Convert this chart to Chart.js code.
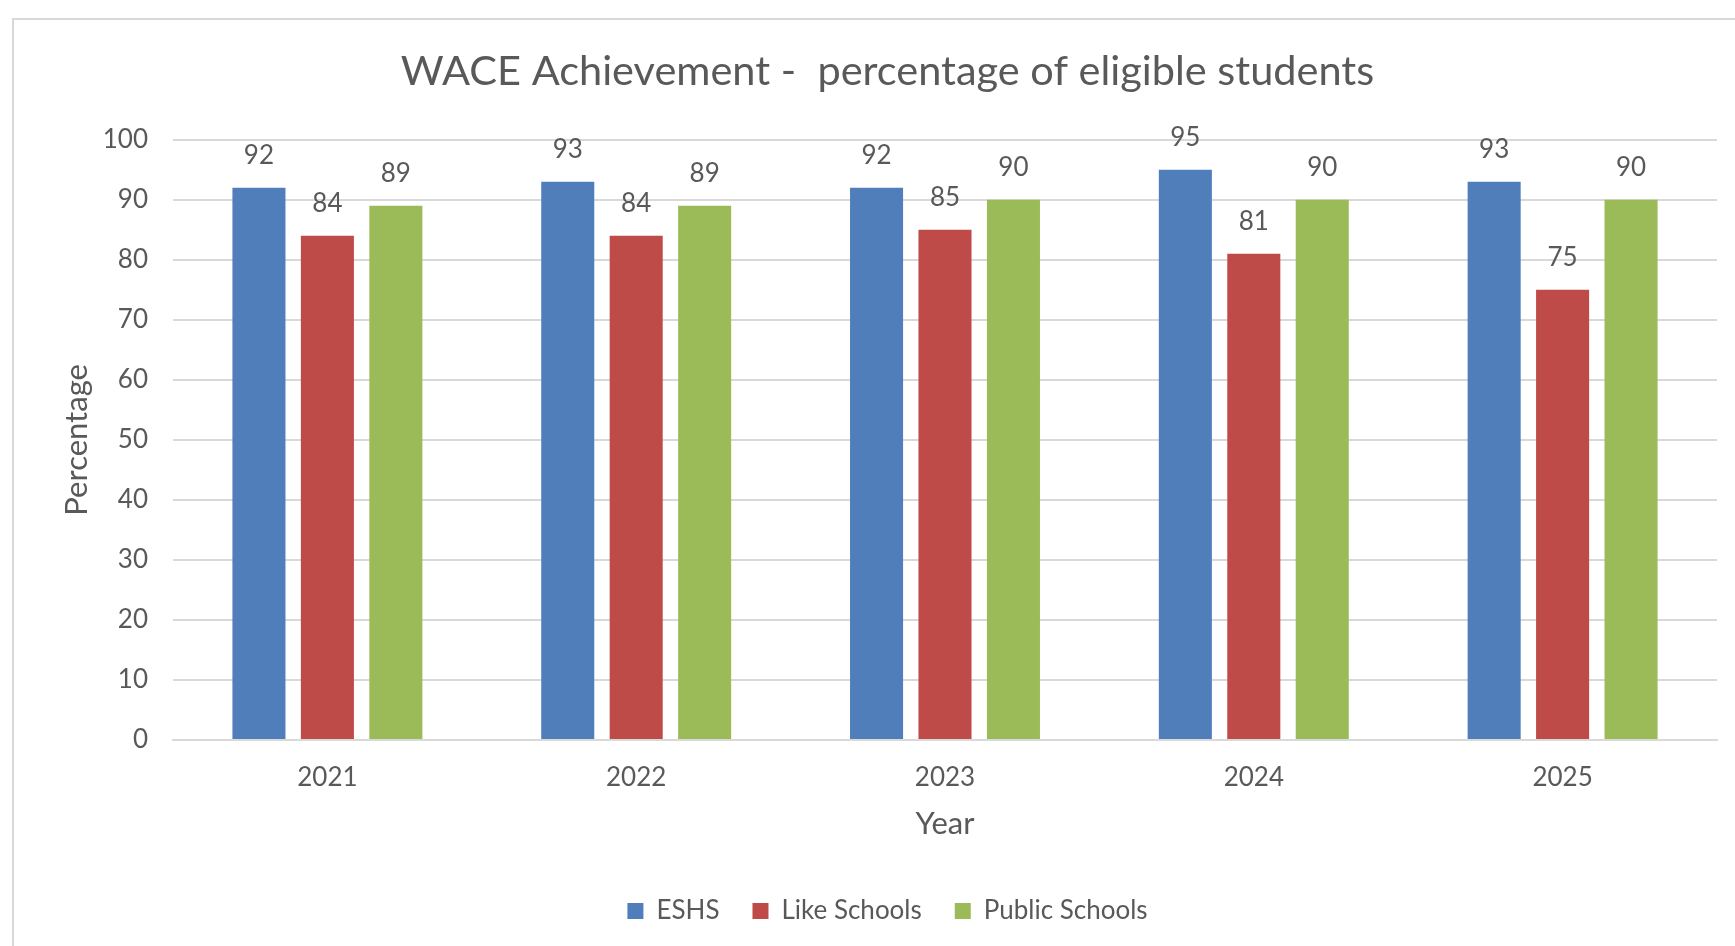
<!DOCTYPE html>
<html>
<head>
<meta charset="utf-8">
<script src="https://cdn.jsdelivr.net/npm/chart.js@4"></script>
<style>
  html, body { margin: 0; padding: 0; background: #fff; }
  #frame { position: absolute; left: 12px; top: 18px; width: 1800px; height: 1000px;
           border-left: 2px solid #d9d9d9; border-top: 2px solid #d9d9d9; }
  #wrap { position: absolute; left: 0; top: 0; width: 1735px; height: 946px; }
</style>
</head>
<body>
<div id="frame"></div>
<div id="wrap"><canvas id="myChart" width="1735" height="946"></canvas></div>
<script>
const years = ['2021', '2022', '2023', '2024', '2025'];
const eshs = [92, 93, 92, 95, 93];
const likeSchools = [84, 84, 85, 81, 75];
const publicSchools = [89, 89, 90, 90, 90];
const yTicks = [0, 10, 20, 30, 40, 50, 60, 70, 80, 90, 100];

const textColor = '#595959';
const fontFamily = 'Lato, "Open Sans", sans-serif';

// value labels above each bar
const barLabels = {
    id: 'barLabels',
    afterDatasetsDraw(chart) {
        const ctx = chart.ctx;
        ctx.save();
        ctx.font = '26px ' + fontFamily;
        ctx.fillStyle = textColor;
        ctx.textAlign = 'center';
        ctx.textBaseline = 'middle';
        chart.data.datasets.forEach((ds, i) => {
            chart.getDatasetMeta(i).data.forEach((bar, j) => {
                ctx.fillText(ds.data[j], bar.x, bar.y - 32);
            });
        });
        ctx.restore();
    }
};

const data = {
    labels: years,
    datasets: [
        { label: 'ESHS', data: eshs, backgroundColor: '#4f7ebb' },
        { label: 'Like Schools', data: likeSchools, backgroundColor: '#be4b48' },
        { label: 'Public Schools', data: publicSchools, backgroundColor: '#9bbb59' }
    ]
};

const config = {
    type: 'bar',
    data: data,
    options: {
        responsive: false,
        animation: false,
        categoryPercentage: 0.665,
        barPercentage: 0.775,
        layout: { padding: { left: 58, right: 18, top: 0, bottom: 12 } },
        plugins: {
            legend: {
                position: 'bottom',
                labels: {
                    boxWidth: 16,
                    boxHeight: 16,
                    padding: 33,
                    color: textColor,
                    font: { family: fontFamily, size: 26 }
                }
            },
            title: {
                display: true,
                text: 'WACE Achievement -  percentage of eligible students',
                color: textColor,
                font: { family: fontFamily, size: 41.5, weight: 'normal' },
                padding: { top: 47, bottom: 43 }
            },
            tooltip: { enabled: false }
        },
        scales: {
            x: {
                grid: { display: false, drawTicks: false },
                border: { display: true, color: '#d9d9d9', width: 2 },
                ticks: { color: textColor, font: { family: fontFamily, size: 26 }, padding: 22 },
                title: {
                    display: true, text: 'Year', color: textColor,
                    font: { family: fontFamily, size: 31 },
                    padding: { top: 0, bottom: 22 }
                },
                afterFit: s => { s.height = 125; }
            },
            y: {
                min: 0,
                max: 100,
                grid: { color: '#d9d9d9', lineWidth: 2, drawTicks: false },
                border: { display: false },
                ticks: {
                    stepSize: 10,
                    color: textColor,
                    padding: 25,
                    font: { family: fontFamily, size: 26 }
                },
                afterBuildTicks: s => { s.ticks = yTicks.map(v => ({ value: v })); },
                title: {
                    display: true, text: 'Percentage', color: textColor,
                    font: { family: fontFamily, size: 31 },
                    padding: { top: 0, bottom: 0 }
                },
                afterFit: s => { s.width = 115; }
            }
        }
    },
    plugins: [barLabels]
};

const myChart = new Chart(document.getElementById('myChart'), config);
</script>
</body>
</html>
